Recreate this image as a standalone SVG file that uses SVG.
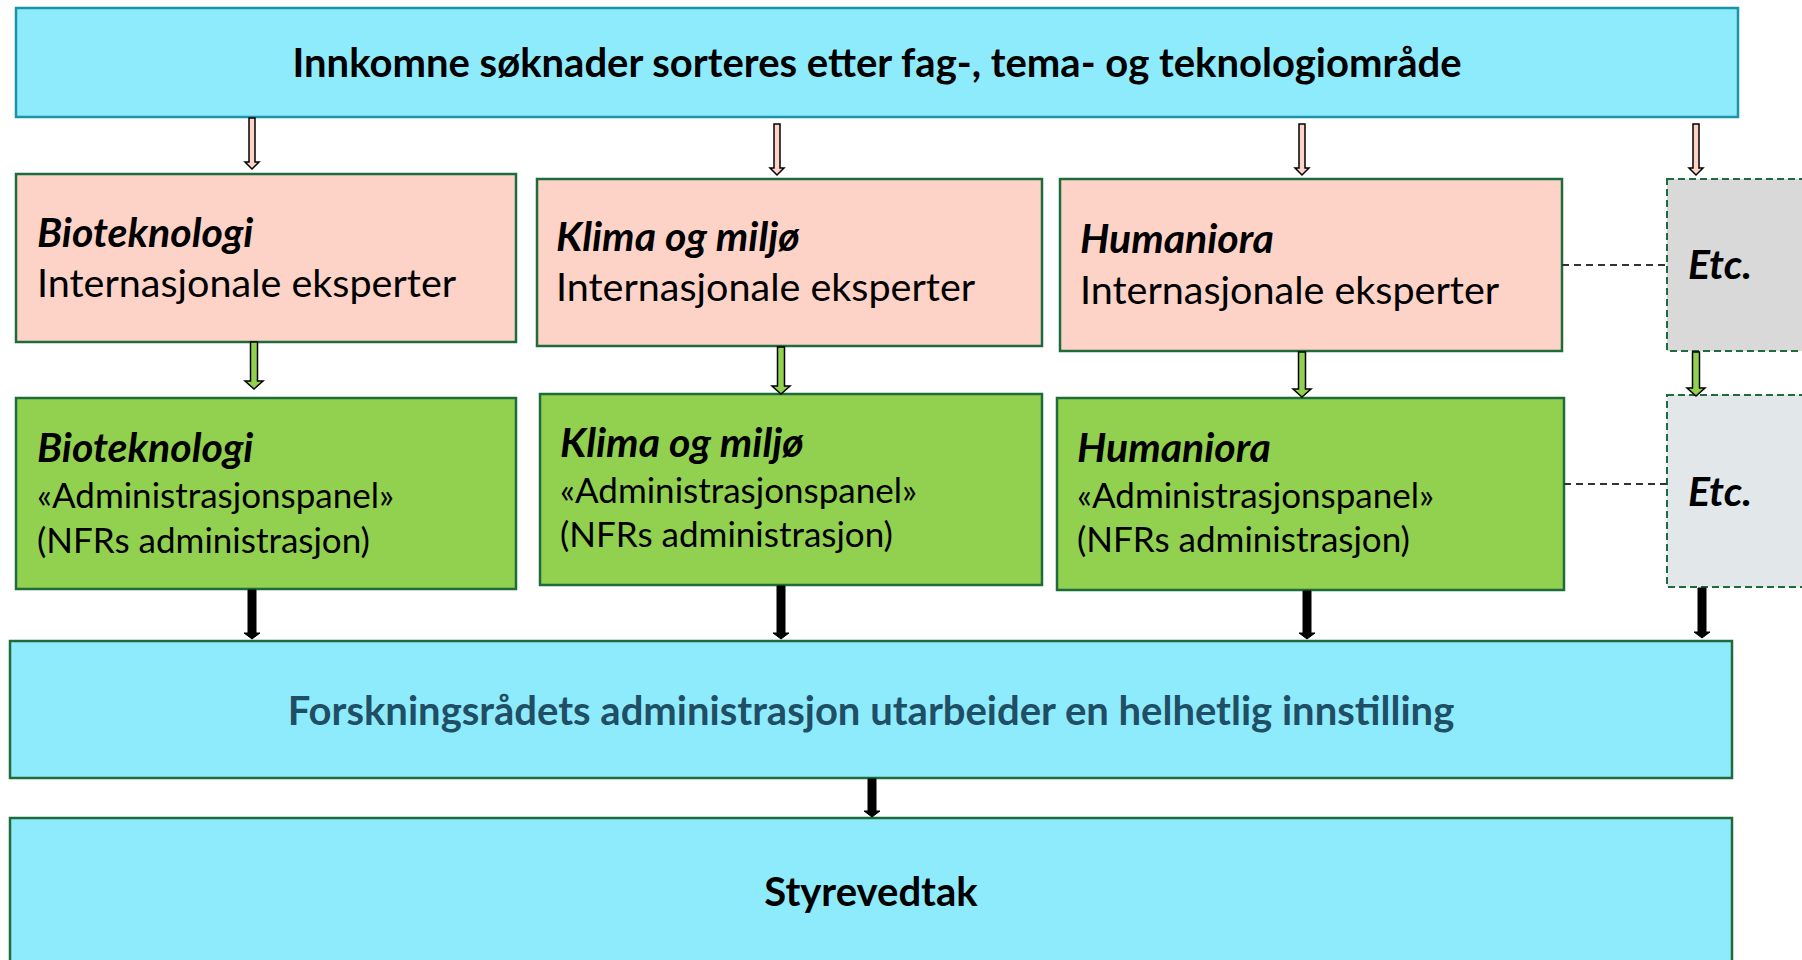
<svg xmlns="http://www.w3.org/2000/svg" width="1802" height="960" viewBox="0 0 1802 960">
<style>
.blue{fill:#8eebfc;stroke:#1e6b3c;stroke-width:2.5}
.top{fill:#8eebfc;stroke:#1b93a8;stroke-width:2.5}
.pink{fill:#fdd3c7;stroke:#1e6b3c;stroke-width:2.5}
.green{fill:#92d050;stroke:#1e6b3c;stroke-width:2.5}
.etc1{fill:#d9d9d9;stroke:#1e6b3c;stroke-width:2;stroke-dasharray:7 4}
.etc2{fill:#e2e8ea;stroke:#1e6b3c;stroke-width:2;stroke-dasharray:7 4}
text{font-family:Lato,"Open Sans","Liberation Sans",sans-serif;fill:#000}
.h{font-weight:bold;font-style:italic;font-size:41px}
.r{font-size:39.5px}
.s{font-size:35px}
.title{font-weight:bold;font-size:40px;text-anchor:middle}
.a1{fill:#fdd3c7;stroke:#000;stroke-width:1.5}
.a2{fill:#92d050;stroke:#000;stroke-width:1.5}
.a3{fill:#000;stroke:#000;stroke-width:1}
.dash{stroke:#333;stroke-width:1.8;stroke-dasharray:7 5;fill:none}
</style>
<rect width="1802" height="960" fill="#fff"/>
<g id="top">
<rect class="top" x="16" y="8" width="1722" height="109"/>
<text class="title" x="877" y="77">Innkomne søknader sorteres etter fag-, tema- og teknologiområde</text>
</g>
<g id="bio-eksp">
<rect class="pink" x="16" y="174" width="500" height="168"/>
<text class="h" x="37" y="247">Bioteknologi</text>
<text class="r" x="37" y="297">Internasjonale eksperter</text>
</g>
<g id="klima-eksp">
<rect class="pink" x="537" y="179" width="505" height="167"/>
<text class="h" x="556" y="251">Klima og miljø</text>
<text class="r" x="556" y="301">Internasjonale eksperter</text>
</g>
<g id="hum-eksp">
<rect class="pink" x="1060" y="179" width="502" height="172"/>
<text class="h" x="1080" y="253">Humaniora</text>
<text class="r" x="1080" y="304">Internasjonale eksperter</text>
</g>
<g id="etc-eksp">
<rect class="etc1" x="1667" y="179" width="150" height="172"/>
<text class="h" x="1688" y="279">Etc.</text>
</g>
<g id="bio-panel">
<rect class="green" x="16" y="398" width="500" height="191"/>
<text class="h" x="37" y="462">Bioteknologi</text>
<text class="s" x="37" y="508">«Administrasjonspanel»</text>
<text class="s" x="37" y="553">(NFRs administrasjon)</text>
</g>
<g id="klima-panel">
<rect class="green" x="540" y="394" width="502" height="191"/>
<text class="h" x="560" y="457">Klima og miljø</text>
<text class="s" x="560" y="503">«Administrasjonspanel»</text>
<text class="s" x="560" y="547">(NFRs administrasjon)</text>
</g>
<g id="hum-panel">
<rect class="green" x="1057" y="398" width="507" height="192"/>
<text class="h" x="1077" y="462">Humaniora</text>
<text class="s" x="1077" y="508">«Administrasjonspanel»</text>
<text class="s" x="1077" y="552">(NFRs administrasjon)</text>
</g>
<g id="etc-panel">
<rect class="etc2" x="1667" y="395" width="150" height="192"/>
<text class="h" x="1688" y="506">Etc.</text>
</g>
<g id="admin">
<rect class="blue" x="10" y="641" width="1722" height="137"/>
<text class="title" x="871" y="725" style="fill:#1f4e65">Forskningsrådets administrasjon utarbeider en helhetlig innstilling</text>
</g>
<g id="styre">
<rect class="blue" x="10" y="818" width="1722" height="160"/>
<text class="title" x="871" y="906">Styrevedtak</text>
</g>
<g id="connectors">
<polygon class="a1" points="249,118 255,118 255,162 259,162 252,169 245,162 249,162"/>
<polygon class="a1" points="774,124 780,124 780,168 784,168 777,175 770,168 774,168"/>
<polygon class="a1" points="1299,124 1305,124 1305,168 1309,168 1302,175 1295,168 1299,168"/>
<polygon class="a1" points="1693,124 1699,124 1699,168 1703,168 1696,175 1689,168 1693,168"/>
<polygon class="a2" points="250.5,342 257.5,342 257.5,381 263,381 254,389 245,381 250.5,381"/>
<polygon class="a2" points="777.5,347 784.5,347 784.5,386 790,386 781,394 772,386 777.5,386"/>
<polygon class="a2" points="1298.5,352 1305.5,352 1305.5,389 1311,389 1302,397 1293,389 1298.5,389"/>
<polygon class="a2" points="1692.5,352 1699.5,352 1699.5,388 1705,388 1696,396 1687,388 1692.5,388"/>
<polygon class="a3" points="248,590 256,590 256,633 260,633 252,639 244,633 248,633"/>
<polygon class="a3" points="777,586 785,586 785,633 789,633 781,639 773,633 777,633"/>
<polygon class="a3" points="1303,591 1311,591 1311,633 1315,633 1307,639 1299,633 1303,633"/>
<polygon class="a3" points="1698,588 1706,588 1706,632 1710,632 1702,638 1694,632 1698,632"/>
<polygon class="a3" points="868,779 876,779 876,811 880,811 872,817 864,811 868,811"/>
<line class="dash" x1="1562" y1="265" x2="1667" y2="265"/>
<line class="dash" x1="1564" y1="484" x2="1667" y2="484"/>
</g>
</svg>
